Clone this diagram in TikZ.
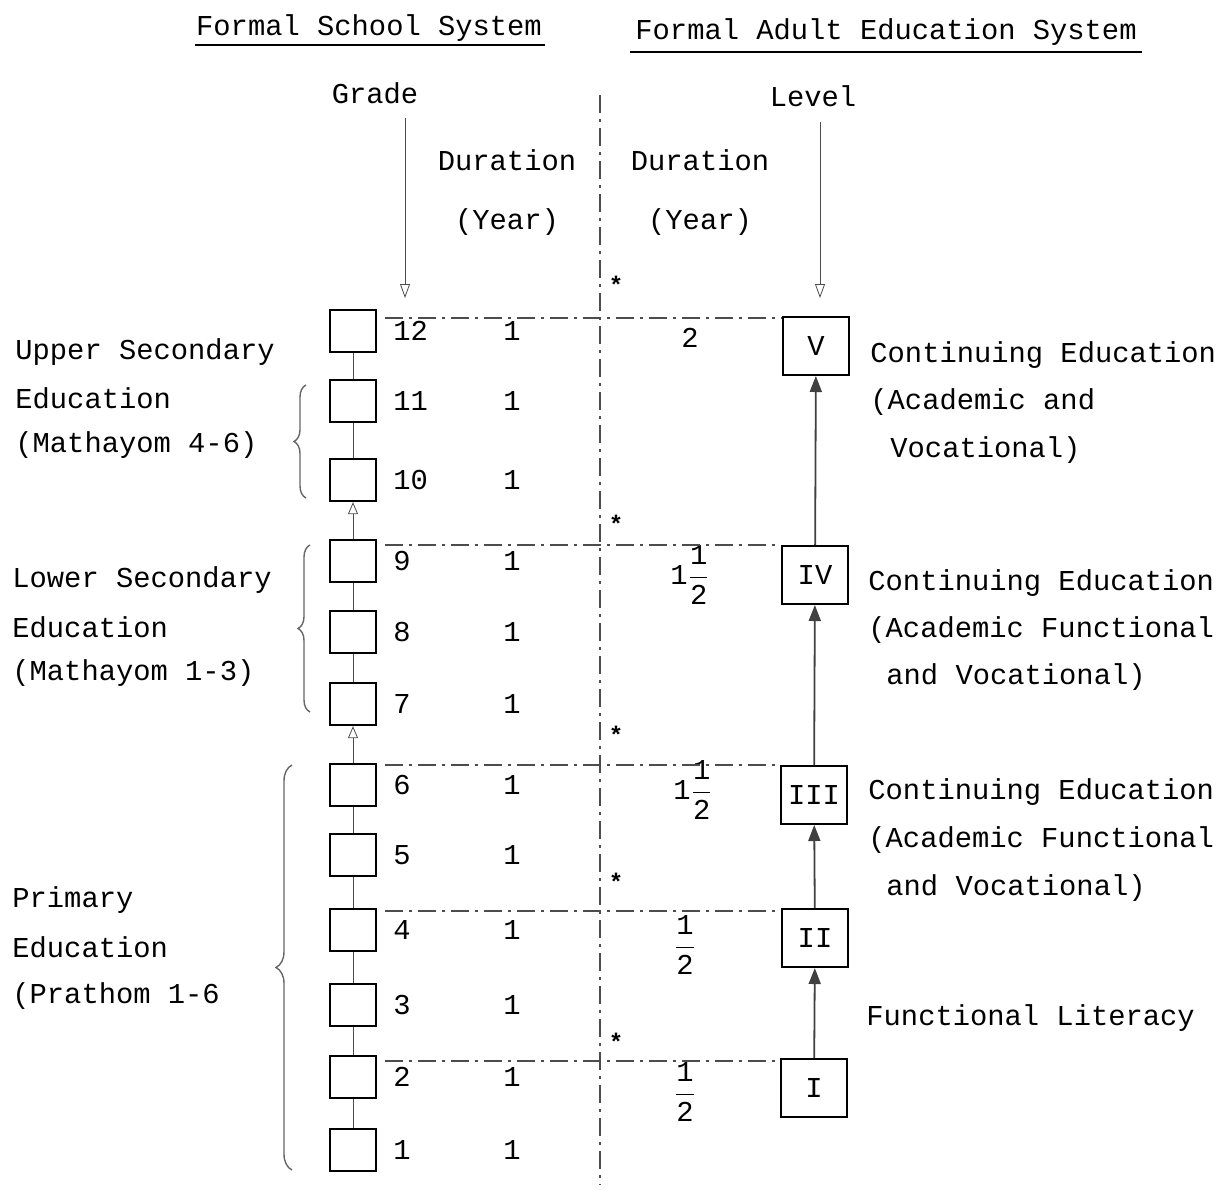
\documentclass[tikz,border=0pt]{standalone}
\usepackage{fontspec}
\setmainfont{Liberation Mono}
\usetikzlibrary{arrows.meta,decorations.pathreplacing}
\newcommand{\halfyr}{\ensuremath{\displaystyle\frac{\mbox{1}}{\mbox{2}}}}

\begin{document}
\begin{tikzpicture}[
	x=0.5pt, y=-0.5pt,
	every node/.style={font=\fontsize{14.4}{17}\selectfont},
	gradebox/.style={draw, line width=1.1pt, minimum width=23pt, minimum height=21pt, inner sep=0pt},
	levelbox/.style={draw, line width=1pt, minimum width=33pt, minimum height=29pt, inner sep=0pt},
	txt/.style={anchor=west, inner sep=0pt},
	dashdot/.style={black!70, line width=0.8pt, dash pattern=on 9pt off 3pt on 1.5pt off 3pt},
	brc/.style={decorate, decoration={brace, amplitude=6pt}, black!60, line width=0.7pt}
]
\useasboundingbox (0,0) rectangle (1224,1189);

% headings
\node at (369,28) (school) {Formal School System};
\node at (886,32) (adult) {Formal Adult Education System};
\draw[line width=0.8pt] (195,45) -- (545,45);
\draw[line width=0.8pt] (630,52) -- (1142,52);
\node at (375,93) (grade) {Grade};
\node at (813,96) (level) {Level};
\node at (507,160) (durl) {Duration};
\node at (507,222) (yrl) {(Year)};
\node at (700,160) (durr) {Duration};
\node at (700,222) (yrr) {(Year)};

\coordinate (gtop) at (405,118);
\coordinate (gbot) at (405,298);
\coordinate (ltop) at (820,122);
\coordinate (lbot) at (820,298);
\draw[black!70, -{Triangle[open,length=7pt,width=5pt]}] (gtop) -- (gbot);
\draw[black!70, -{Triangle[open,length=7pt,width=5pt]}] (ltop) -- (lbot);

% separator
\coordinate (sepa) at (600,95);
\coordinate (sepb) at (600,1185);
\draw[dashdot] (sepa) -- (sepb);
\foreach \y [count=\i] in {285,524,735,882,1042}
	\node at (616,\y) (star\i) [font=\fontsize{12}{12}\selectfont\bfseries] {*};

% formal school grades
\foreach \g/\y in {12/331,11/401,10/480,9/561,8/632,7/704,6/785,5/855,4/930,3/1005,2/1077,1/1150} {
	\node at (353,\y) (g\g) [gradebox] {};
	\node at (393,\y) (n\g) [txt] {\g};
	\node at (512,\y) (d\g) {1};
}
\foreach \a/\b in {11/12,10/11,8/9,7/8,5/6,4/5,3/4,2/3,1/2} \draw[black!70] (g\a) -- (g\b);
\foreach \a/\b in {9/10,6/7} \draw[black!70, -{Triangle[open,length=6pt,width=5pt]}] (g\a) -- (g\b);

% adult education levels
\node at (816,346) (L5) [levelbox] {V};
\node at (815,575) (L4) [levelbox] {IV};
\node at (814,795) (L3) [levelbox] {III};
\node at (815,938) (L2) [levelbox] {II};
\node at (814,1088) (L1) [levelbox] {I};
\foreach \a/\b in {L1/L2,L2/L3,L3/L4,L4/L5}
	\draw[black!75, line width=0.9pt, -{Triangle[length=8pt,width=6pt]}] (\a) -- (\b);

\node at (690,338) (r5) {2};
\node at (690,575) (r4) {1\halfyr};
\node at (693,790) (r3) {1\halfyr};
\node at (685,945) (r2) {\halfyr};
\node at (685,1092) (r1) {\halfyr};

% level boundaries
\foreach \y/\l in {318/L5,545/L4,765/L3,911/L2,1061/L1} {
	\coordinate (h\l) at (385,\y);
	\draw[dashdot] (h\l) -- (h\l -| \l.west);
}

% right descriptions
\node at (870,355) (c5a) [txt] {Continuing Education};
\node at (870,402) (c5b) [txt] {(Academic and};
\node at (890,450) (c5c) [txt] {Vocational)};
\node at (868,583) (c4a) [txt] {Continuing Education};
\node at (868,630) (c4b) [txt] {(Academic Functional};
\node at (886,677) (c4c) [txt] {and Vocational)};
\node at (868,792) (c3a) [txt] {Continuing Education};
\node at (868,840) (c3b) [txt] {(Academic Functional};
\node at (886,888) (c3c) [txt] {and Vocational)};
\node at (866,1018) (c1) [txt] {Functional Literacy};

% left descriptions
\node at (15,352) (up1) [txt] {Upper Secondary};
\node at (15,398) (up2) [txt] {Education};
\node at (15,445) (up3) [txt] {(Mathayom 4-6)};
\node at (12,580) (lo1) [txt] {Lower Secondary};
\node at (12,627) (lo2) [txt] {Education};
\node at (12,673) (lo3) [txt] {(Mathayom 1-3)};
\node at (12,900) (pr1) [txt] {Primary};
\node at (12,947) (pr2) [txt] {Education};
\node at (12,996) (pr3) [txt] {(Prathom 1-6};

% braces
\draw[brc] (306,498) -- (306,385);
\draw[brc] (310,712) -- (310,545);
\draw[brc, decoration={amplitude=8pt}] (292,1170) -- (292,765);

\end{tikzpicture}
\end{document}
